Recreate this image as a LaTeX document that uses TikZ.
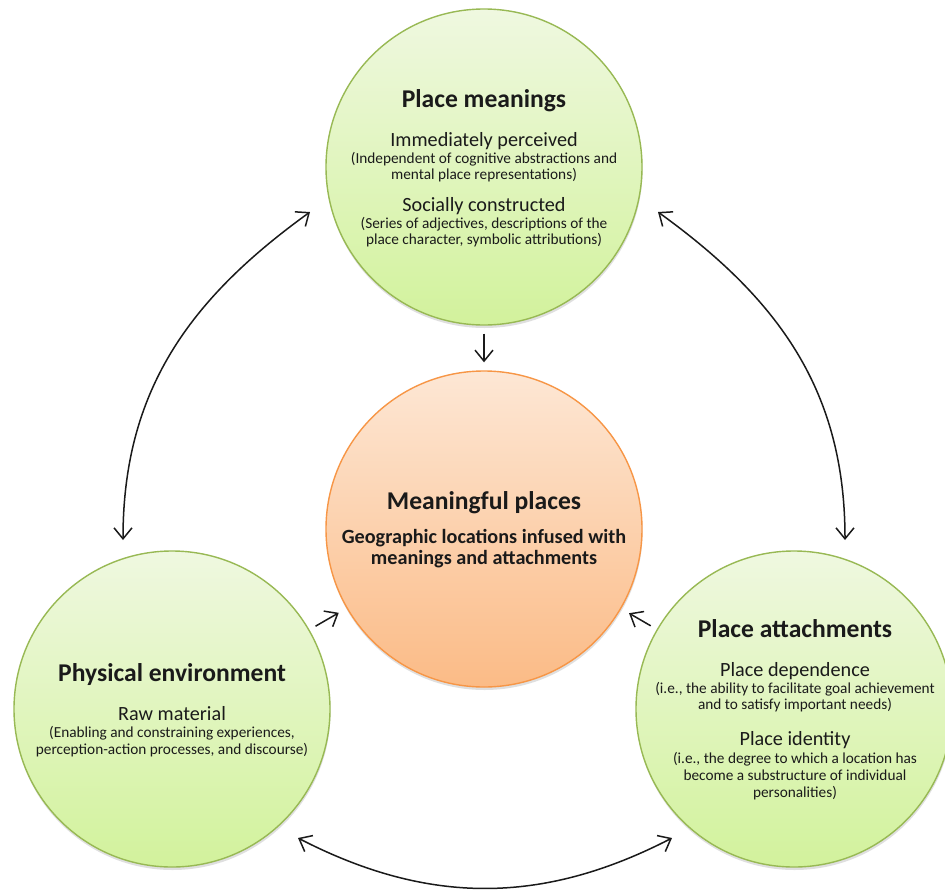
\documentclass[tikz,border=0pt]{standalone}
\usepackage{fontspec}
\setmainfont{Carlito}
\usetikzlibrary{arrows.meta,shadows}
\definecolor{gtop}{HTML}{EFF8E0}
\definecolor{gbot}{HTML}{D2F29C}
\definecolor{gline}{HTML}{98B954}
\definecolor{otop}{HTML}{FDE7D5}
\definecolor{obot}{HTML}{FBBB86}
\definecolor{oline}{HTML}{F79646}
\definecolor{ink}{HTML}{1A1A1A}
\begin{document}
\begin{tikzpicture}[x=1pt,y=-1pt,
  bubble/.style={circle, minimum size=316pt, inner sep=0pt, line width=1.4pt,
    drop shadow={shadow xshift=0.5pt, shadow yshift=-3pt, opacity=0.25}},
  greenbub/.style={bubble, draw=gline, top color=gtop, bottom color=gbot},
  orangebub/.style={bubble, draw=oline, top color=otop, bottom color=obot},
  lbl/.style={anchor=base, inner sep=0pt, text=ink},
  ttl/.style={lbl, font=\fontsize{25.6}{30}\selectfont\bfseries},
  sub/.style={lbl, font=\fontsize{20.2}{24}\selectfont},
  par/.style={lbl, font=\fontsize{15.3}{18}\selectfont},
  csub/.style={lbl, font=\fontsize{20.2}{24}\selectfont\bfseries},
  arr/.style={line width=1.5pt, draw=ink, -{Straight Barb[length=11pt,width=18pt]}},
  darr/.style={line width=1.5pt, draw=ink, {Straight Barb[length=11pt,width=18pt]}-{Straight Barb[length=11pt,width=18pt]}}
]
\useasboundingbox (0,0) rectangle (945,889);
\fill[white] (0,0) rectangle (945,889);

% circles
\node[greenbub] (top) at (484,167) {};
\node[orangebub] (mid) at (484,529) {};
\node[greenbub] (left) at (172,709) {};
\node[greenbub] (right) at (794,709) {};

% top circle texts
\node[ttl] (t1) at (484,107) {Place meanings};
\node[sub] (t2) at (484,146) {Immediately perceived};
\node[par] (t3) at (484,163) {(Independent of cognitive abstractions and};
\node[par] (t4) at (484,179) {mental place representations)};
\node[sub] (t5) at (484,211) {Socially constructed};
\node[par] (t6) at (484,228) {(Series of adjectives, descriptions of the};
\node[par] (t7) at (484,244) {place character, symbolic attributions)};

% centre circle texts
\node[ttl] (m1) at (484,509) {Meaningful places};
\node[csub] (m2) at (484,543) {Geographic locations infused with};
\node[csub] (m3) at (484,564) {meanings and attachments};

% left circle texts
\node[ttl] (l1) at (172,681) {Physical environment};
\node[sub] (l2) at (172,720) {Raw material};
\node[par] (l3) at (172,737) {(Enabling and constraining experiences,};
\node[par] (l4) at (172,754) {perception-action processes, and discourse)};

% right circle texts
\node[ttl] (r1) at (795,637) {Place attachments};
\node[sub] (r2) at (795,676) {Place dependence};
\node[par] (r3) at (795,693) {(i.e., the ability to facilitate goal achievement};
\node[par] (r4) at (795,709) {and to satisfy important needs)};
\node[sub] (r5) at (795,745) {Place identity};
\node[par] (r6) at (795,763) {(i.e., the degree to which a location has};
\node[par] (r7) at (795,780) {become a substructure of individual};
\node[par] (r8) at (795,797) {personalities)};

% straight arrows into the centre
\draw[arr, shorten <=8pt, shorten >=8pt] (top) -- (mid);
\draw[arr, shorten <=7pt, shorten >=9pt] (left) -- (mid);
\draw[arr, shorten <=7pt, shorten >=9pt] (right) -- (mid);

% curved double arrows
\coordinate (tlA) at (123,540);
\coordinate (tlB) at (310,212);
\coordinate (trA) at (658,212);
\coordinate (trB) at (845,540);
\coordinate (bA) at (298,838);
\coordinate (bB) at (672,838);
\draw[darr] (tlA) .. controls (123,392) and (188,300) .. (tlB);
\draw[darr] (trA) .. controls (780,300) and (845,392) .. (trB);
\draw[darr] (bA) .. controls (428,905) and (542,905) .. (bB);
\end{tikzpicture}
\end{document}
